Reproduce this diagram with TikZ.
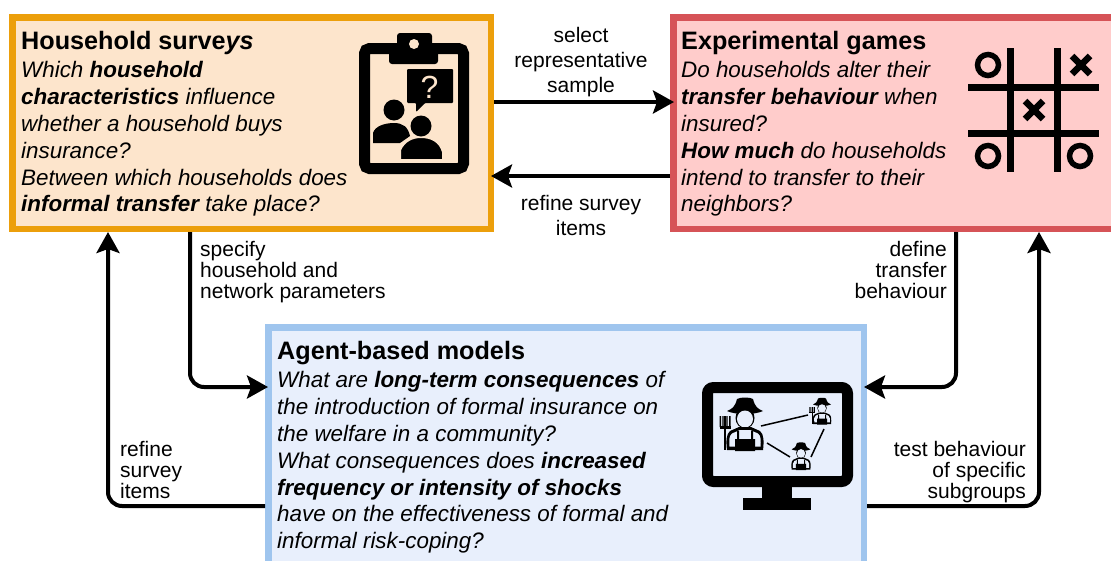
\documentclass[tikz,border=0pt]{standalone}
\usepackage{fontspec}
\setmainfont{Liberation Sans}
\usetikzlibrary{arrows.meta,calc}
\definecolor{ink}{HTML}{000000}
\definecolor{orangeedge}{HTML}{EC9F0B}
\definecolor{orangefill}{HTML}{FDE5CC}
\definecolor{rededge}{HTML}{D65357}
\definecolor{redfill}{HTML}{FFCCCB}
\definecolor{blueedge}{HTML}{9FC5EE}
\definecolor{bluefill}{HTML}{E8EFFC}
\tikzset{
  panel/.style={draw, line width=6.5pt, inner sep=0pt, outer sep=0pt, anchor=north west},
  qtext/.style={inner sep=0pt, anchor=north west, align=left, font=\fontsize{22.4}{26.8}\selectfont\itshape, text=ink},
  qtitle/.style={inner sep=0pt, anchor=north west, align=left, font=\fontsize{25.2}{30}\selectfont\bfseries, text=ink},
  lab/.style={inner sep=0pt, align=center, font=\fontsize{21}{25.4}\selectfont, text=ink},
  labtight/.style={inner sep=0pt, font=\fontsize{21}{21}\selectfont, text=ink},
  conn/.style={line width=4pt, draw=ink, rounded corners=14pt, -{Stealth[length=21pt,width=23pt,inset=4pt]}},
  farmer/.pic={
    % hat
    \fill[ink] (-18,-7) .. controls (-13,-9) and (-10,-11) .. (-8,-19) .. controls (-5,-21) and (5,-21) .. (8,-19)
      .. controls (10,-11) and (13,-9) .. (18,-7) .. controls (10,-3) and (-10,-3) .. (-18,-7) -- cycle;
    % face
    \fill[ink] (0,0) ellipse (9.5 and 10.5);
    \fill[bluefill] (0,1) ellipse (8 and 8.5);
    % body
    \fill[ink] (-18,32) .. controls (-19,24) and (-19,16) .. (-15,13) -- (-6,9) -- (6,9) -- (15,13) .. controls (19,16) and (19,24) .. (18,32) -- cycle;
    \fill[bluefill] (-15.5,28.5) .. controls (-16,22) and (-16,18) .. (-13,15.5) -- (-5,12) -- (5,12) -- (13,15.5) .. controls (16,18) and (16,22) .. (15.5,28.5) -- cycle;
    % overalls
    \fill[ink] (-10,33) -- (-10,21) -- (-8,21) -- (-8,13) -- (-6,13) -- (-6,21) -- (6,21) -- (6,13) -- (8,13) -- (8,21) -- (10,21) -- (10,33) -- cycle;
  },
  fork/.pic={
    \fill[ink] (-21,-2) rectangle (-19,32);
    \fill[ink] (-25.5,8) rectangle (-14.5,10.5);
    \fill[ink] (-25.5,-2) rectangle (-24,9) (-22.7,-2) rectangle (-21.3,9) (-18.7,-2) rectangle (-17.3,9) (-16,-2) rectangle (-14.5,9);
  }
}
\begin{document}
\begin{tikzpicture}[x=1pt,y=-1pt]
\useasboundingbox (0,0) rectangle (1111,560);
\fill[white] (0,0) rectangle (1111,560);

% panels
\node[panel, draw=orangeedge, fill=orangefill, minimum width=478.5pt, minimum height=211.5pt] (survey) at (12.25,17.25) {};
\node[panel, draw=rededge, fill=redfill, minimum width=470pt, minimum height=211.5pt] (games) at (673.25,17.25) {};
\node[panel, draw=blueedge, fill=bluefill, minimum width=595.5pt, minimum height=260pt] (abm) at (268.25,327.25) {};

% panel texts
\node[qtitle] (surveytitle) at (21,31.5) {Household surve\textit{ys}};
\node[qtext] (surveytext) at (21,61.5) {Which \textbf{household}\\
\textbf{characteristics} influence\\
whether a household buys\\
insurance?\\
Between which households does\\
\textbf{informal transfer} take place?};
\node[qtitle] (gamestitle) at (681,31.5) {Experimental games};
\node[qtext] (gamestext) at (681,61.5) {Do households alter their\\
\textbf{transfer behaviour} when\\
insured?\\
\textbf{How much} do households\\
intend to transfer to their\\
neighbors?};
\node[qtitle] (abmtitle) at (277,341.5) {Agent-based models};
\node[qtext] (abmtext) at (277,371.5) {What are \textbf{long-term consequences} of\\
the introduction of formal insurance on\\
the welfare in a community?\\
What consequences does \textbf{increased}\\
\textbf{frequency or intensity of shocks}\\
have on the effectiveness of formal and\\
informal risk-coping?};

% connectors
\coordinate (selA) at (494,102); \coordinate (selB) at (674,102);
\coordinate (refA) at (670,176); \coordinate (refB) at (491,176);
\draw[conn, rounded corners=0pt] (selA) -- (selB);
\draw[conn, rounded corners=0pt] (refA) -- (refB);
\coordinate (spA) at (190,232); \coordinate (spB) at (268,387);
\draw[conn] (spA) |- (spB);
\coordinate (defA) at (956,232); \coordinate (defB) at (864,387);
\draw[conn] (defA) |- (defB);
\coordinate (rfA) at (265,506); \coordinate (rfB) at (108,232);
\draw[conn] (rfA) -| (rfB);
\coordinate (tsA) at (867,506); \coordinate (tsB) at (1039,232);
\draw[conn] (tsA) -| (tsB);

% labels
\node[lab] (l1) at (581,62) {select\\representative\\sample};
\node[lab] (l2) at (581,215.5) {refine survey\\items};
\node[labtight, align=left, anchor=north west] (l3) at (200,241) {specify\\household and\\network parameters};
\node[labtight, align=right, anchor=north east] (l4) at (947,241) {define\\transfer\\behaviour};
\node[labtight, align=left, anchor=north west] (l5) at (120,441) {refine\\survey\\items};
\node[labtight, align=right, anchor=north east] (l6) at (1026,441) {test behaviour\\of specific\\subgroups};

% clipboard icon
\draw[ink, line width=11pt, rounded corners=5pt] (364.5,48.5) rectangle (463.5,168.5);
\fill[ink, rounded corners=3pt] (389,64) -- (389,46) -- (397,46) -- (397,33) -- (432,33) -- (432,46) -- (438,46) -- (438,64) -- cycle;
\fill[orangefill] (414,44) circle (5);
\fill[ink, rounded corners=1pt] (407,69) -- (453,69) -- (453,103) -- (425,103) -- (416,112) -- (416,103) -- (407,103) -- cycle;
\node[inner sep=0pt, text=orangefill, font=\fontsize{32}{32}\selectfont] (qm) at (429.5,87) {?};
\fill[ink] (394,110) circle (10.5);
\fill[ink] (373,143) -- (373,133) .. controls (375,126) and (385,123) .. (394,123) .. controls (403,123) and (408,127) .. (410,136) -- (400,143) -- cycle;
\fill[ink, draw=orangefill, line width=2pt] (400,160) -- (400,150) .. controls (404,141) and (412,137) .. (421,137) .. controls (431,137) and (440,141) .. (443,152) -- (443,160) -- cycle;
\fill[ink] (421,126) circle (10.5);

% tic-tac-toe icon
\draw[ink, line width=7pt] (1010,48) -- (1010,172) (1057,48) -- (1057,172) (968,87) -- (1099,87) (968,133) -- (1099,133);
\draw[ink, line width=5.5pt] (988,65) circle (10.5) (988,156) circle (10.5) (1080,156) circle (10.5);
\draw[ink, line width=6.5pt] (1072,56) -- (1090,74) (1072,74) -- (1090,56) (1025,101) -- (1043,119) (1025,119) -- (1043,101);

% monitor icon
\draw[ink, line width=11pt, rounded corners=6pt] (707.5,387.5) rectangle (847.5,481.5);
\fill[ink] (762,487) rectangle (792,498);
\fill[ink] (743,498) rectangle (811,510);
\draw[ink, line width=1.5pt] (761,426) -- (808,415) (767,443) -- (790,457) (824,429) -- (811,457);
\pic at (745,418) {farmer};
\pic at (745,418) {fork};
\pic[scale=0.5] at (822,408) {farmer};
\pic[scale=0.5] at (822,408) {fork};
\pic[scale=0.52] at (801,453) {farmer};
\end{tikzpicture}
\end{document}
